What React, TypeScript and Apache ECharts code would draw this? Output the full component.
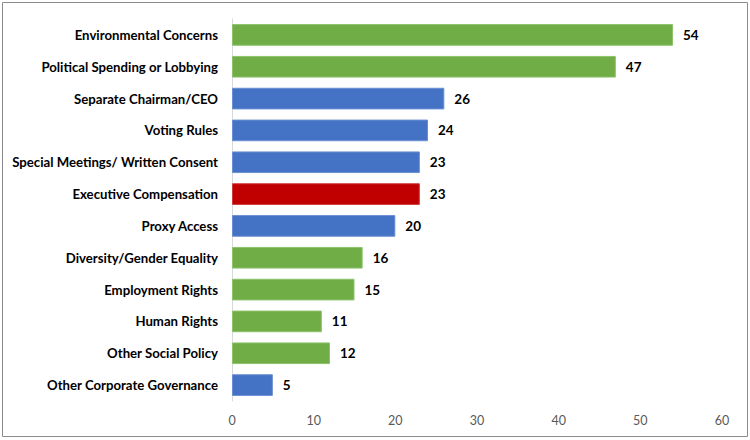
import React, { useEffect, useRef } from "react";
import * as echarts from "echarts";

const categories = [
  "Environmental Concerns",
  "Political Spending or Lobbying",
  "Separate Chairman/CEO",
  "Voting Rules",
  "Special Meetings/ Written Consent",
  "Executive Compensation",
  "Proxy Access",
  "Diversity/Gender Equality",
  "Employment Rights",
  "Human Rights",
  "Other Social Policy",
  "Other Corporate Governance",
];
const values = [54, 47, 26, 24, 23, 23, 20, 16, 15, 11, 12, 5];
const groups = ["s", "s", "g", "g", "g", "c", "g", "s", "s", "s", "s", "g"];
const groupColors: Record<string, string> = { s: "#70AD47", g: "#4472C4", c: "#C00000" };
const groupBorders: Record<string, string> = { s: "#8CC26A", g: "#6A8FD2", c: "#D03A3A" };
const xTicks = { min: 0, max: 60, interval: 10 };

export default function App() {
  const ref = useRef<HTMLDivElement>(null);
  useEffect(() => {
    if (!ref.current) return;
    const chart = echarts.init(ref.current, undefined, { renderer: "svg" });
    chart.setOption({
      animation: false,
      backgroundColor: "#ffffff",
      grid: { left: 232, right: 28, top: 19, bottom: 39, containLabel: false },
      graphic: [
        {
          type: "rect",
          shape: { x: 2.5, y: 2.5, width: 745, height: 434 },
          style: { fill: "none", stroke: "#8c8c8c", lineWidth: 1 },
          silent: true,
        },
      ],
      xAxis: {
        type: "value",
        min: xTicks.min,
        max: xTicks.max,
        interval: xTicks.interval,
        axisLine: { show: false },
        axisTick: { show: false },
        splitLine: { show: false },
        axisLabel: { color: "#595959", fontFamily: "Lato", fontSize: 12.5, margin: 13 },
      },
      yAxis: {
        type: "category",
        inverse: true,
        data: categories,
        axisLine: { show: true, lineStyle: { color: "#d9d9d9", width: 1 } },
        axisTick: { show: false },
        axisLabel: {
          color: "#000000",
          fontFamily: "Lato",
          fontWeight: "bold",
          fontSize: 13.2,
          margin: 14,
        },
      },
      series: [
        {
          type: "bar",
          barCategoryGap: "32%",
          data: values.map((v, i) => ({
            value: v,
            itemStyle: {
              color: groupColors[groups[i]],
              borderColor: groupBorders[groups[i]],
              borderWidth: 1,
            },
          })),
          label: {
            show: true,
            position: "right",
            distance: 10,
            color: "#000000",
            fontFamily: "Lato",
            fontWeight: "bold",
            fontSize: 13.5,
          },
        },
      ],
    });
    return () => chart.dispose();
  }, []);
  return (
    <div
      ref={ref}
      style={{ position: "fixed", left: 0, top: 0, width: 750, height: 440 }}
    />
  );
}
